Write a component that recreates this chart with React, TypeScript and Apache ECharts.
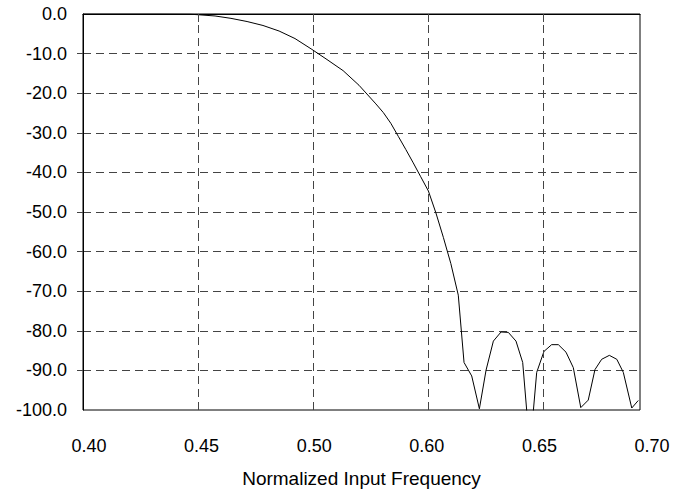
import React, { useEffect, useRef } from "react";
import * as echarts from "echarts";

// Normalized input frequency of each sample
const freq = [
  0.4, 0.4193, 0.4402, 0.4558, 0.4605, 0.4689, 0.4772, 0.4856, 0.4939, 0.5023,
  0.5106, 0.519, 0.5273, 0.5357, 0.544, 0.5528, 0.5567, 0.5606, 0.5645, 0.5684,
  0.5723, 0.5762, 0.5802, 0.5841, 0.588, 0.5919, 0.5958, 0.5988, 0.6028, 0.6068,
  0.6103, 0.6141, 0.6181, 0.6219, 0.6259, 0.6294, 0.6332, 0.6367, 0.6405, 0.6445,
  0.648, 0.652, 0.6558, 0.6597, 0.6636, 0.6671, 0.6706, 0.6746, 0.6785, 0.6819,
  0.6863, 0.6897,
];
// Magnitude response in dB
const db = [
  0, 0, 0, -0.05, -0.2, -0.5, -1.1, -1.9, -2.9, -4.3,
  -6.2, -8.8, -11.5, -14.3, -18.0, -22.7, -24.9, -27.6, -30.9, -34.2,
  -37.6, -41.1, -44.7, -50.2, -56.4, -63.0, -71.0, -88.0, -91.4, -99.7,
  -89.9, -82.6, -80.3, -80.4, -82.6, -88.0, -110.0, -90.5, -85.2, -83.5,
  -83.5, -85.4, -89.3, -99.4, -97.5, -89.8, -87.2, -86.2, -87.2, -90.5,
  -99.5, -97.6,
];

const xTickValues = [0.4, 0.46, 0.52, 0.58, 0.64, 0.7];
const xTickLabels = ["0.40", "0.45", "0.50", "0.60", "0.65", "0.70"];
const xGridValues = [0.46, 0.52, 0.58, 0.64];
const yTickValues = [-90, -80, -70, -60, -50, -40, -30, -20, -10];
const X_MIN = 0.4;
const X_MAX = 0.6906;
const Y_MIN = -100;
const Y_MAX = 0;

const FONT = "'Liberation Sans', Arial, sans-serif";
const GRID_COLOR = "#444";

export default function App() {
  const ref = useRef<HTMLDivElement>(null);

  useEffect(() => {
    if (!ref.current) return;
    const chart = echarts.init(ref.current, null, { renderer: "svg" });
    const data = freq.map((f, i) => [f, db[i]]);
    chart.setOption({
      animation: false,
      backgroundColor: "#fff",
      grid: [
        {
          left: 83,
          top: 14,
          width: 557,
          height: 400,
          show: true,
          borderColor: "#000",
          borderWidth: 1,
          backgroundColor: "transparent",
        },
        { left: 89, top: 14, width: 563, height: 400 },
      ],
      xAxis: [
        {
          type: "value",
          gridIndex: 0,
          min: X_MIN,
          max: X_MAX,
          name: "Normalized Input Frequency",
          nameLocation: "middle",
          nameGap: 59,
          nameTextStyle: { fontFamily: FONT, fontSize: 19, color: "#000" },
          axisLine: { show: true, lineStyle: { color: "#000", width: 1 } },
          axisTick: {
            show: true,
            customValues: xGridValues,
            length: 8,
            inside: false,
            lineStyle: { color: GRID_COLOR, width: 1 },
          },
          axisLabel: { show: false },
          splitLine: { show: false },
        },
        {
          type: "value",
          gridIndex: 1,
          min: 0.4,
          max: 0.7,
          axisLine: { show: false },
          axisTick: { show: false },
          splitLine: { show: false },
          axisLabel: {
            show: true,
            customValues: xTickValues,
            margin: 23,
            fontFamily: FONT,
            fontSize: 18,
            color: "#000",
            formatter: (v: number) => {
              const idx = xTickValues.findIndex((t) => Math.abs(t - v) < 1e-6);
              return idx >= 0 ? xTickLabels[idx] : "";
            },
          },
        },
      ],
      yAxis: [
        {
          type: "value",
          gridIndex: 0,
          min: Y_MIN,
          max: Y_MAX,
          interval: 10,
          axisLine: { show: true, lineStyle: { color: "#000", width: 1 } },
          axisTick: {
            show: true,
            customValues: yTickValues,
            length: 6,
            lineStyle: { color: GRID_COLOR, width: 1 },
          },
          axisLabel: {
            margin: 16,
            fontFamily: FONT,
            fontSize: 18,
            color: "#000",
            formatter: (v: number) => v.toFixed(1),
          },
          splitLine: {
            show: true,
            lineStyle: { color: GRID_COLOR, width: 1, type: [8, 5] },
          },
        },
        {
          type: "value",
          gridIndex: 1,
          min: Y_MIN,
          max: Y_MAX,
          show: false,
        },
      ],
      series: [
        {
          type: "line",
          xAxisIndex: 0,
          yAxisIndex: 0,
          data,
          showSymbol: false,
          clip: true,
          lineStyle: { color: "#000", width: 1 },
          markLine: {
            silent: true,
            symbol: ["none", "none"],
            label: { show: false },
            lineStyle: { color: GRID_COLOR, width: 1, type: [8, 5] },
            data: xGridValues.map((v) => ({ xAxis: v })),
          },
        },
      ],
    });
    return () => chart.dispose();
  }, []);

  return (
    <div
      ref={ref}
      style={{ position: "fixed", left: 0, top: 0, width: 686, height: 493 }}
    />
  );
}
